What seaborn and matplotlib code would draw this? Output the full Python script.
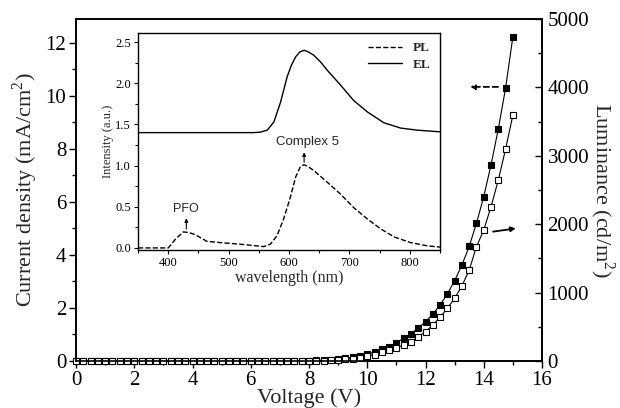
import numpy as np
import pandas as pd
import seaborn as sns
import matplotlib.pyplot as plt
from matplotlib.ticker import MultipleLocator

# main J-V-L data (0 to 15 V, step 0.25 V)
voltage = np.arange(0, 15.01, 0.25)
current = [0.0] * 32 + [0.01, 0.02, 0.03, 0.05, 0.07, 0.10, 0.14, 0.19, 0.26, 0.34,
                        0.44, 0.54, 0.69, 0.86, 1.02, 1.25, 1.48, 1.77, 2.11, 2.53,
                        3.03, 3.62, 4.32, 5.20, 6.20, 7.40, 8.75, 10.30, 12.23]
luminance = [0.0] * 32 + [2, 4, 7, 11, 17, 25, 36, 50, 68, 95,
                          127, 161, 192, 235, 282, 355, 428, 526, 639, 770,
                          917, 1096, 1330, 1671, 1915, 2256, 2646, 3099, 3596]

# inset spectra
el_wl = [350, 450, 540, 552, 564, 575, 586, 597, 604, 611, 618, 625, 632, 641, 652, 663,
         685, 707, 730, 757, 785, 812, 840, 850]
el_int = [1.40, 1.40, 1.40, 1.405, 1.43, 1.53, 1.77, 2.08, 2.22, 2.32, 2.38, 2.40, 2.38,
          2.34, 2.26, 2.16, 1.98, 1.79, 1.65, 1.52, 1.455, 1.43, 1.415, 1.41]
pl_wl = [350, 380, 400, 412, 425, 435, 445, 464, 486, 519, 540, 558, 569, 580, 591, 602,
         611, 619, 625, 632, 641, 663, 685, 707, 730, 752, 774, 801, 829, 850]
pl_int = [0.0, 0.0, 0.0, 0.106, 0.195, 0.185, 0.16, 0.08, 0.065, 0.045, 0.03, 0.016, 0.045,
          0.146, 0.35, 0.61, 0.86, 0.99, 1.01, 0.985, 0.94, 0.80, 0.655, 0.49, 0.35, 0.23,
          0.134, 0.065, 0.025, 0.01]

sns.set_style("ticks")
plt.rcParams['font.family'] = ['Liberation Serif', 'DejaVu Serif']
plt.rcParams['mathtext.fontset'] = 'custom'
plt.rcParams['mathtext.rm'] = 'Liberation Serif'
plt.rcParams['xtick.color'] = 'black'
plt.rcParams['ytick.color'] = 'black'
plt.rcParams['axes.edgecolor'] = 'black'

fig = plt.figure(figsize=(6.2, 4.08), dpi=100)
ax = fig.add_axes([0.1226, 0.1152, 0.7516, 0.8382])
ax2 = ax.twinx()

sns.lineplot(x=voltage, y=current, ax=ax, color='black', lw=0.8, marker='s', clip_on=False,
             markersize=5, markerfacecolor='black', markeredgecolor='black', markeredgewidth=0.8)
sns.lineplot(x=voltage, y=luminance, ax=ax2, color='black', lw=0.8, marker='s', clip_on=False,
             markersize=5, markerfacecolor='white', markeredgecolor='black', markeredgewidth=0.8)

ax.set_xlim(0, 16)
ax.set_ylim(0, 12.9)
ax2.set_ylim(0, 5000)
ax.xaxis.set_major_locator(MultipleLocator(2))
ax.xaxis.set_minor_locator(MultipleLocator(1))
ax.yaxis.set_major_locator(MultipleLocator(2))
ax.yaxis.set_minor_locator(MultipleLocator(1))
ax2.yaxis.set_major_locator(MultipleLocator(1000))
ax2.yaxis.set_minor_locator(MultipleLocator(500))
ax.tick_params(axis='both', which='major', direction='out', length=5, width=1, labelsize=15, pad=2)
ax.tick_params(axis='both', which='minor', direction='out', length=3, width=1)
ax2.tick_params(axis='y', which='major', direction='in', length=5, width=1, labelsize=15, pad=4)
ax2.tick_params(axis='y', which='minor', direction='in', length=3, width=1)
for a in (ax, ax2):
    for s in a.spines.values():
        s.set_linewidth(1.2)

ax.set_xlabel('Voltage (V)', fontsize=16, labelpad=-1)
ax.set_ylabel('Current density (mA/cm$^2$)', fontsize=16, labelpad=4)
ax2.set_ylabel('Luminance (cd/m$^2$)', fontsize=16, rotation=270, labelpad=20)

# arrows pointing at the axes
ax.annotate('', xy=(13.53, 10.34), xytext=(14.49, 10.34),
            arrowprops=dict(arrowstyle='-|>', color='black', lw=1.3, ls=(0, (3, 2)),
                            mutation_scale=7, shrinkA=0, shrinkB=0))
ax.annotate('', xy=(15.1, 5.0), xytext=(14.32, 4.88),
            arrowprops=dict(arrowstyle='-|>', color='black', lw=1.3,
                            mutation_scale=7, shrinkA=0, shrinkB=0))

# inset
axi = fig.add_axes([0.2226, 0.3873, 0.4871, 0.5319])
sns.lineplot(x=pl_wl, y=pl_int, ax=axi, color='black', lw=1.0, linestyle='--', label='PL')
sns.lineplot(x=el_wl, y=el_int, ax=axi, color='black', lw=1.0, label='EL')
axi.set_xlim(350, 850)
axi.set_ylim(-0.025, 2.61)
axi.xaxis.set_major_locator(MultipleLocator(100))
axi.xaxis.set_minor_locator(MultipleLocator(50))
axi.yaxis.set_major_locator(MultipleLocator(0.5))
axi.yaxis.set_minor_locator(MultipleLocator(0.25))
axi.tick_params(axis='both', which='major', direction='out', length=3, width=0.8, labelsize=9, pad=2)
axi.tick_params(axis='both', which='minor', direction='out', length=2, width=0.8)
axi.yaxis.set_major_formatter(plt.FormatStrFormatter('%.1f'))
for s in axi.spines.values():
    s.set_linewidth(1.0)
axi.set_xlabel('wavelength (nm)', fontsize=11.5, labelpad=1)
axi.set_ylabel('Intensity (a.u.)', fontsize=9, labelpad=1)
leg = axi.legend(loc='upper right', frameon=False, handlelength=2.6,
                 prop={'weight': 'bold', 'size': 9.5}, borderaxespad=0.3, labelspacing=0.3)

axi.text(630, 1.29, 'Complex 5', fontsize=9.5, family='Liberation Sans', ha='center', va='center')
axi.annotate('', xy=(625, 1.16), xytext=(625, 1.04),
             arrowprops=dict(arrowstyle='-|>', color='black', lw=0.8, mutation_scale=5,
                             shrinkA=0, shrinkB=0))
axi.text(430, 0.47, 'PFO', fontsize=9, family='Liberation Sans', ha='center', va='center')
axi.annotate('', xy=(430, 0.36), xytext=(430, 0.23),
             arrowprops=dict(arrowstyle='-|>', color='black', lw=0.8, mutation_scale=5,
                             shrinkA=0, shrinkB=0))

fig.savefig('out.png', dpi=100)
